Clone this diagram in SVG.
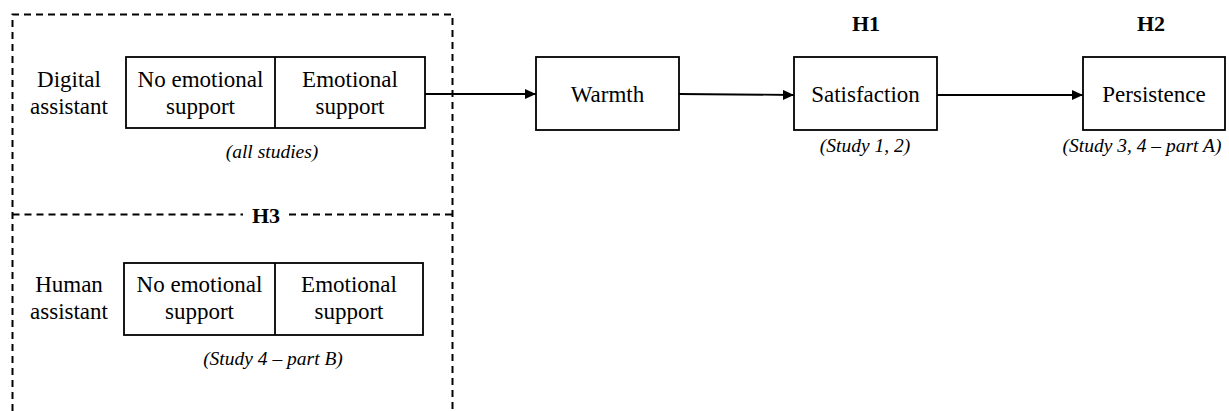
<svg xmlns="http://www.w3.org/2000/svg" width="1229" height="411" viewBox="0 0 1229 411">
  <defs>
    <marker id="arrow" markerWidth="11" markerHeight="10" refX="11" refY="5" orient="auto" markerUnits="userSpaceOnUse">
      <path d="M0,0 L11,5 L0,10 Z" fill="#000"/>
    </marker>
  </defs>
  <style>
    .box { fill: #fff; stroke: #000; stroke-width: 1.8; }
    .dash { fill: none; stroke: #000; stroke-width: 2; stroke-dasharray: 7 5; }
    .lbl { font-family: "Liberation Serif", "Times New Roman", serif; font-size: 23px; fill: #000; text-anchor: middle; }
    .hyp { font-family: "Liberation Serif", "Times New Roman", serif; font-size: 22px; font-weight: bold; fill: #000; text-anchor: middle; }
    .note { font-family: "Liberation Serif", "Times New Roman", serif; font-size: 19.5px; font-style: italic; fill: #000; text-anchor: middle; }
    .conn { fill: none; stroke: #000; stroke-width: 1.8; }
  </style>

  <rect width="1229" height="411" fill="#fff"/>

  <!-- dashed frame around the two assistant conditions -->
  <g id="frame">
    <path class="dash" d="M12.5,411 L12.5,14.5 L452.5,14.5 L452.5,411"/>
    <path class="dash" d="M12.5,214.5 L243,214.5"/>
    <path class="dash" d="M289,214.5 L452.5,214.5"/>
    <text class="hyp" x="266" y="223">H3</text>
  </g>

  <!-- digital assistant manipulation -->
  <g id="digital">
    <text class="lbl" x="69" y="87">Digital</text>
    <text class="lbl" x="69" y="114">assistant</text>
    <rect class="box" x="126" y="57" width="299" height="71"/>
    <line x1="275" y1="57" x2="275" y2="128" stroke="#000" stroke-width="1.8"/>
    <text class="lbl" x="200.5" y="87">No emotional</text>
    <text class="lbl" x="200.5" y="114">support</text>
    <text class="lbl" x="350" y="87">Emotional</text>
    <text class="lbl" x="350" y="114">support</text>
    <text class="note" x="272" y="158">(all studies)</text>
  </g>

  <!-- human assistant manipulation -->
  <g id="human">
    <text class="lbl" x="69" y="292">Human</text>
    <text class="lbl" x="69" y="319">assistant</text>
    <rect class="box" x="124" y="263" width="299" height="72"/>
    <line x1="275" y1="263" x2="275" y2="335" stroke="#000" stroke-width="1.8"/>
    <text class="lbl" x="199.5" y="292">No emotional</text>
    <text class="lbl" x="199.5" y="319">support</text>
    <text class="lbl" x="349" y="292">Emotional</text>
    <text class="lbl" x="349" y="319">support</text>
    <text class="note" x="273" y="365">(Study 4 – part B)</text>
  </g>

  <g id="warmth">
    <rect class="box" x="536" y="57" width="143" height="73"/>
    <text class="lbl" x="607.5" y="102">Warmth</text>
  </g>

  <g id="satisfaction">
    <text class="hyp" x="866" y="31">H1</text>
    <rect class="box" x="794" y="57" width="143" height="73"/>
    <text class="lbl" x="865.5" y="102">Satisfaction</text>
    <text class="note" x="865" y="152">(Study 1, 2)</text>
  </g>

  <g id="persistence">
    <text class="hyp" x="1151" y="31">H2</text>
    <rect class="box" x="1083" y="57" width="142" height="73"/>
    <text class="lbl" x="1154" y="102">Persistence</text>
    <text class="note" x="1142" y="152">(Study 3, 4 – part A)</text>
  </g>

  <g id="connectors">
    <line class="conn" x1="425" y1="94" x2="536" y2="94" marker-end="url(#arrow)"/>
    <line class="conn" x1="679" y1="94" x2="794" y2="95" marker-end="url(#arrow)"/>
    <line class="conn" x1="937" y1="95" x2="1083" y2="95" marker-end="url(#arrow)"/>
  </g>
</svg>
